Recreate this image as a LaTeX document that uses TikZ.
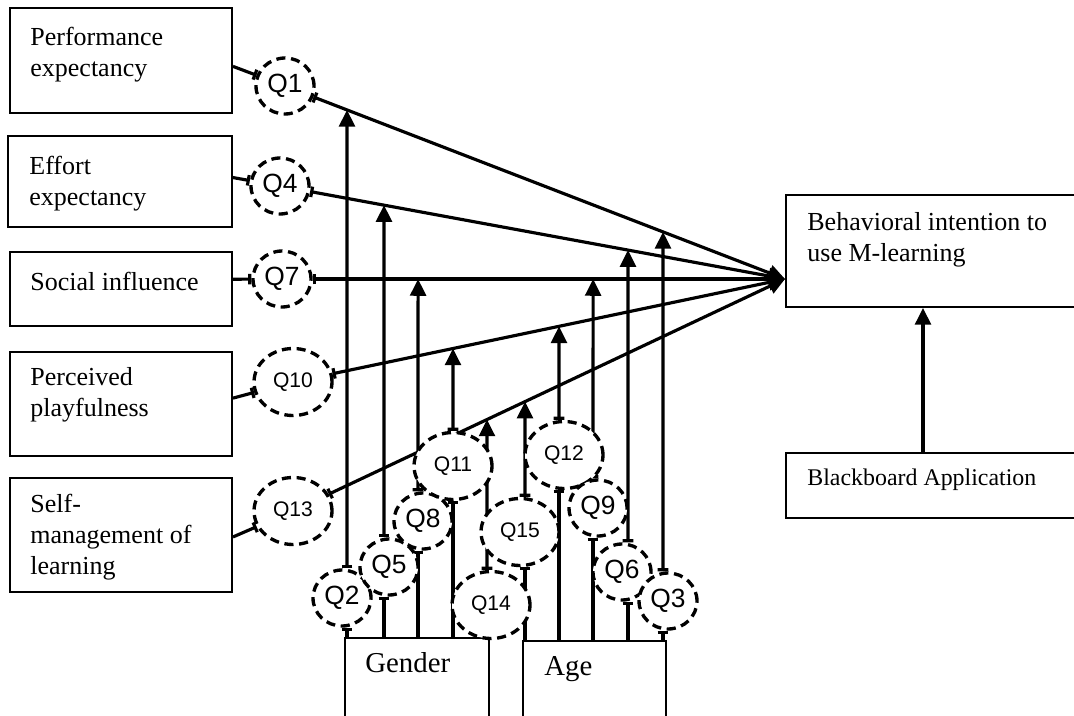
\documentclass[tikz,border=0pt]{standalone}
\usepackage{fontspec}
\setmainfont{Liberation Serif}
\newfontfamily\qfont{Liberation Sans}
\usetikzlibrary{positioning,fit,shapes.geometric,arrows.meta,backgrounds}

\tikzset{
  box/.style={draw,line width=1.1pt,inner sep=0pt},
  txt/.style={inner sep=0pt,align=left,font=\fontsize{14.8}{17.6}\selectfont},
  qone/.style={ellipse,draw,dash pattern=on 5.2pt off 3.2pt,line width=1.9pt,fill=white,
    inner sep=0pt,minimum width=1.16cm,minimum height=1.12cm,font=\qfont\fontsize{15}{15}\selectfont},
  qtwo/.style={qone,minimum width=1.56cm,minimum height=1.34cm,font=\qfont\fontsize{12}{12}\selectfont},
  conn/.style={line width=1.8pt,-{Bar[width=6pt]}},
  moder/.style={line width=1.8pt,{Bar[width=6pt]}->},
}

\begin{document}
\begin{tikzpicture}[x=0.02cm,y=-0.02cm,>={Triangle[length=9.5pt,width=9pt]}]
\useasboundingbox (0,0) rectangle (1074,716);
% constructs
\node[box,fit={(10,8) (232,113)}] (perf) {};
\node[txt,below right=0.4cm and 0.42cm of perf.north west] (perf-t) {Performance\\expectancy};
\node[box,fit={(8,136) (232,227)}] (effort) {};
\node[txt,below right=0.42cm and 0.44cm of effort.north west] (effort-t) {Effort\\expectancy};
\node[box,fit={(10,252) (232,326)}] (social) {};
\node[txt,below right=0.42cm and 0.42cm of social.north west] (social-t) {Social influence};
\node[box,fit={(10,352) (232,456)}] (play) {};
\node[txt,below right=0.32cm and 0.42cm of play.north west] (play-t) {Perceived\\playfulness};
\node[box,fit={(10,478) (232,592)}] (self) {};
\node[txt,below right=0.34cm and 0.42cm of self.north west] (self-t) {Self-\\management of\\learning};
\node[box,fit={(786,195) (1090,307)}] (bi) {};
\node[txt,below right=0.36cm and 0.44cm of bi.north west] (bi-t) {Behavioral intention to\\use M-learning};
\node[box,fit={(786,453) (1090,518)}] (bb) {};
\node[txt,font=\fontsize{13.6}{16}\selectfont,below right=0.34cm and 0.44cm of bb.north west] (bb-t) {Blackboard Application};
\node[box,fit={(345,638) (489,740)}] (gender) {};
\node[txt,font=\fontsize{16.4}{19}\selectfont,below right=0.3cm and 0.42cm of gender.north west] (gender-t) {Gender};
\node[box,fit={(523,641) (666,740)}] (age) {};
\node[txt,font=\fontsize{16.4}{19}\selectfont,below right=0.32cm and 0.44cm of age.north west] (age-t) {Age};
% items
\node[qone] (q1) at (285,86) {Q1};
\node[qone] (q4) at (280,186) {Q4};
\node[qone] (q7) at (282,279) {Q7};
\node[qtwo] (q10) at (293,382) {Q10};
\node[qtwo] (q13) at (293,511) {Q13};
\node[qone] (q2) at (342,598) {Q2};
\node[qone] (q5) at (389,567) {Q5};
\node[qone] (q8) at (423,521) {Q8};
\node[qtwo] (q11) at (453,466) {Q11};
\node[qtwo] (q14) at (491,605) {Q14};
\node[qtwo] (q15) at (520,532) {Q15};
\node[qtwo] (q12) at (564,455) {Q12};
\node[qone] (q9) at (598,508) {Q9};
\node[qone] (q6) at (622,572) {Q6};
\node[qone] (q3) at (668,601) {Q3};
% feet of the moderator lines
\coordinate (g2) at (347,0 |- gender.north);
\coordinate (g5) at (384,0 |- gender.north);
\coordinate (g8) at (418,0 |- gender.north);
\coordinate (g11) at (453,0 |- gender.north);
\coordinate (g14) at (487,0 |- gender.north);
\coordinate (a15) at (525,0 |- age.north);
\coordinate (a12) at (559,0 |- age.north);
\coordinate (a9) at (593,0 |- age.north);
\coordinate (a6) at (628,0 |- age.north);
\coordinate (a3) at (663,0 |- age.north);
\coordinate (bb-top) at (923,0 |- bb.north);
\coordinate (tip) at (bi.west |- q7);
\begin{pgfonlayer}{background}
\draw[conn] (perf.357) -- (q1);
\draw[conn] (effort.2) -- (q4);
\draw[conn] (social.5) -- (q7);
\draw[conn] (play.3) -- (q10);
\draw[conn] (self.359) -- (q13);
\foreach \q in {q1,q4,q7,q10,q13}
  \draw[moder] (\q) -- (tip);
\foreach \f/\q in {g2/q2,g5/q5,g8/q8,g11/q11,a15/q15,a12/q12,a9/q9,a6/q6,a3/q3}
  \draw[conn] (\f) -- (\f |- \q.south);
\foreach \f/\q/\t in {g2/q2/q1,g5/q5/q4,g8/q8/q7,g11/q11/q10,g14/q14/q13,
                      a15/q15/q13,a12/q12/q10,a9/q9/q7,a6/q6/q4,a3/q3/q1}{
  \coordinate (up) at (\f |- \q.north);
  \draw[moder] (up) -- (intersection of \f--up and \t--tip);
}
\draw[line width=1.8pt,->] (bb-top) -- (bb-top |- bi.south);
\end{pgfonlayer}
\end{tikzpicture}
\end{document}
